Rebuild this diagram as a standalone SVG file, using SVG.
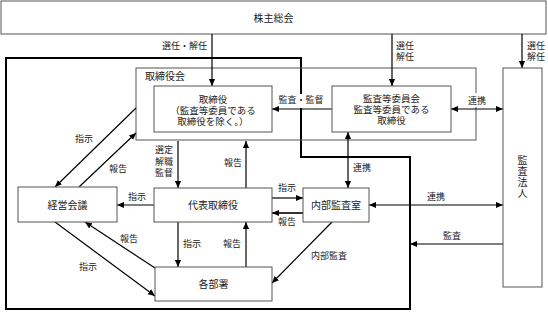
<svg xmlns="http://www.w3.org/2000/svg" width="548" height="312" viewBox="0 0 548 312">
<defs>
<marker id="ah" viewBox="0 0 8 8" refX="8" refY="4" markerWidth="7" markerHeight="7" markerUnits="userSpaceOnUse" orient="auto-start-reverse">
<path d="M0,0.5 L8,4 L0,7.5 Z" fill="#000"/>
</marker>
<style>
.box{fill:#fff;stroke:#555;stroke-width:1}
.frame{fill:none;stroke:#555;stroke-width:1}
.thick{fill:none;stroke:#000;stroke-width:2}
.ln{fill:none;stroke:#000;stroke-width:1.2}
.a{marker-end:url(#ah)}
.b{marker-start:url(#ah);marker-end:url(#ah)}
text{font-family:"Liberation Serif","Noto Sans CJK JP",serif;fill:#222}
.t{font-size:10px;text-anchor:middle}
.s{font-size:9px;text-anchor:middle}
.sl{font-size:9px;text-anchor:start}
.se{font-size:9px;text-anchor:end}
.bg{fill:#fff;stroke:none}
</style>
</defs>

<g id="shareholders">
<rect class="box" x="1" y="1" width="545" height="33"/>
<text class="t" x="273.5" y="22">株主総会</text>
</g>

<path class="thick" d="M6,58 H301 V157 H410 V309 H6 Z"/>

<g id="board">
<rect class="frame" x="136" y="68" width="340" height="72"/>
<text class="sl" x="145" y="80" style="font-size:10px">取締役会</text>
</g>

<g id="connectors">
<rect class="bg" x="276" y="94" width="50" height="14"/>
<rect class="bg" x="465" y="93" width="24" height="14"/>
<path class="ln a" d="M212,34 V86"/>
<path class="ln a" d="M392,34 V86"/>
<path class="ln a" d="M522,34 V68"/>
<path class="ln a" d="M332,109 H272"/>
<path class="ln b" d="M451,109 H503"/>
<path class="ln b" d="M348,132 V188"/>
<path class="ln b" d="M369,205 H503"/>
<path class="ln a" d="M503,244 H410"/>
<path class="ln a" d="M332,222 L272,283"/>
<path class="ln a" d="M272,198 H303"/>
<path class="ln a" d="M303,213 H272" style="stroke-width:1.6"/>
<path class="ln a" d="M154,205 H117"/>
<path class="ln a" d="M178,141 V188"/>
<path class="ln a" d="M246,188 V141"/>
<path class="ln a" d="M136,108 L55,187"/>
<path class="ln a" d="M79,187 L136,133"/>
<path class="ln a" d="M178,222 V267"/>
<path class="ln a" d="M246,267 V222"/>
<path class="ln a" d="M155,268 L85,222"/>
<path class="ln a" d="M55,222 L155,296"/>

<text class="se" x="207" y="49">選任・解任</text>
<text class="sl" x="396" y="49">選任</text>
<text class="sl" x="396" y="60">解任</text>
<text class="sl" x="527" y="49">選任</text>
<text class="sl" x="527" y="60">解任</text>
<text class="s" x="301" y="103">監査・監督</text>
<text class="s" x="477" y="104">連携</text>
<text class="sl" x="353" y="171">連携</text>
<text class="s" x="436" y="200">連携</text>
<text class="s" x="452" y="239">監査</text>
<text class="s" x="329" y="259">内部監査</text>
<text class="s" x="287" y="191">指示</text>
<text class="s" x="287" y="225">報告</text>
<text class="s" x="137" y="200">指示</text>
<text class="s" x="164" y="153">選定</text>
<text class="s" x="164" y="165">解職</text>
<text class="s" x="164" y="176">監督</text>
<text class="s" x="233" y="166">報告</text>
<text class="s" x="84" y="142">指示</text>
<text class="s" x="118" y="172">報告</text>
<text class="s" x="192" y="247">指示</text>
<text class="s" x="232" y="247">報告</text>
<text class="s" x="129" y="242">報告</text>
<text class="s" x="88" y="270">指示</text>
</g>

<g id="directors">
<rect class="box" x="154" y="86" width="118" height="46"/>
<text class="t" x="213" y="103" style="font-size:9.5px">取締役</text>
<text class="t" x="213" y="114" style="font-size:9.5px">（監査等委員である</text>
<text class="t" x="213" y="125" style="font-size:9.5px">取締役を除く。）</text>
</g>

<g id="audit-committee">
<rect class="box" x="332" y="86" width="119" height="46"/>
<text class="t" x="391.5" y="102" style="font-size:9.5px">監査等委員会</text>
<text class="t" x="391.5" y="113" style="font-size:9.5px">監査等委員である</text>
<text class="t" x="391.5" y="124" style="font-size:9.5px">取締役</text>
</g>

<g id="auditor">
<rect class="box" x="503" y="68" width="39" height="219"/>
<text class="t" x="522.5" y="164">監</text>
<text class="t" x="522.5" y="175">査</text>
<text class="t" x="522.5" y="186">法</text>
<text class="t" x="522.5" y="197">人</text>
</g>

<g id="management-meeting">
<rect class="box" x="18" y="187" width="99" height="35"/>
<text class="t" x="67.5" y="208.5">経営会議</text>
</g>

<g id="representative">
<rect class="box" x="154" y="188" width="118" height="34"/>
<text class="t" x="213" y="208.5">代表取締役</text>
</g>

<g id="internal-audit">
<rect class="box" x="303" y="188" width="66" height="34"/>
<text class="t" x="336" y="208.5">内部監査室</text>
</g>

<g id="departments">
<rect class="box" x="155" y="267" width="117" height="34"/>
<text class="t" x="213.5" y="287.5">各部署</text>
</g>
</svg>
